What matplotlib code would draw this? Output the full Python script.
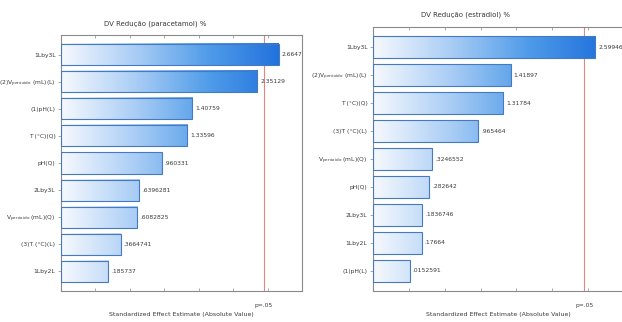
import numpy as np
import matplotlib.pyplot as plt
from matplotlib.colors import LinearSegmentedColormap, Normalize
from matplotlib.ticker import MultipleLocator

# Pareto charts of standardized effects
titles = ["DV Redução (paracetamol) %", "DV Redução (estradiol) %"]

labels_para = ["1Lby3L", r"(2)V$_{\rm peróxido}$ (mL)(L)", "(1)pH(L)", "T (°C)(Q)",
               "pH(Q)", "2Lby3L", r"V$_{\rm peróxido}$ (mL)(Q)", "(3)T (°C)(L)", "1Lby2L"]
values_para = [2.6647, 2.35129, 1.40759, 1.33596, 0.960331, 0.6396281, 0.6082825,
               0.3664741, 0.185737]
texts_para = ["2.6647", "2.35129", "1.40759", "1.33596", ".960331", ".6396281",
              ".6082825", ".3664741", ".185737"]

labels_estr = ["1Lby3L", r"(2)V$_{\rm peróxido}$ (mL)(L)", "T (°C)(Q)", "(3)T (°C)(L)",
               r"V$_{\rm peróxido}$ (mL)(Q)", "pH(Q)", "2Lby3L", "1Lby2L", "(1)pH(L)"]
values_estr = [2.59946, 1.41897, 1.31784, 0.965464, 0.3246552, 0.282642, 0.1836746,
               0.17664, 0.0152591]
texts_estr = ["2.59946", "1.41897", "1.31784", ".965464", ".3246552", ".282642",
              ".1836746", ".17664", ".0152591"]

p_crit = 2.4469
XMIN, XMAX = -0.5, 3.0

cmap = LinearSegmentedColormap.from_list("bl", ["#f6f9fe", "#a9cdf5", "#4f9be9", "#1e6fdc"])
norm = Normalize(vmin=XMIN, vmax=2.75)
txt_col = "#3a3a3a"


def pareto(ax, labels, values, texts, title, title_x, title_y, fig):
    y = np.arange(len(values))
    h = 0.78
    for yi, v in zip(y, values):
        grad = np.linspace(XMIN, v, 256).reshape(1, -1)
        ax.imshow(grad, cmap=cmap, norm=norm, aspect="auto",
                  extent=[XMIN, v, yi + h / 2, yi - h / 2], zorder=2)
    ax.barh(y, np.array(values) - XMIN, left=XMIN, height=h, fill=False,
            edgecolor="#4579c0", linewidth=0.8, zorder=3)
    for yi, v, t in zip(y, values, texts):
        ax.text(v + 0.04, yi, t, fontsize=4.3, color=txt_col, va="center", ha="left")
    ax.axvline(p_crit, color="#e38585", lw=0.8, zorder=1)
    ax.set_xlim(XMIN, XMAX)
    ax.set_ylim(len(values) - 0.28, -0.72)
    ax.set_yticks(y)
    ax.set_yticklabels(labels, fontsize=4.3, color=txt_col)
    ax.set_xticks([])
    ax.xaxis.set_minor_locator(MultipleLocator(0.5))
    ax.tick_params(axis="x", which="minor", length=2, width=0.5, color="#888888",
                   top=True, bottom=True, direction="in")
    ax.tick_params(axis="y", length=2, width=0.5, color="#888888", pad=2)
    for s in ax.spines.values():
        s.set_color("#8a8a8a")
        s.set_linewidth(0.8)
    ax.text(p_crit, -0.045, "p=.05", transform=ax.get_xaxis_transform(),
            fontsize=4.3, color=txt_col, ha="center", va="top")
    ax.set_xlabel("Standardized Effect Estimate (Absolute Value)", fontsize=4.5,
                  color=txt_col, labelpad=12)
    fig.text(title_x, title_y, title, fontsize=5, color=txt_col, ha="center", va="center")


fig = plt.figure(figsize=(6.22, 3.22), dpi=100)
ax1 = fig.add_axes([61 / 622, 31 / 322, 241 / 622, 256 / 322])
ax2 = fig.add_axes([373 / 622, 31 / 322, 251 / 622, 264 / 322])

pareto(ax1, labels_para, values_para, texts_para, titles[0], 155 / 622, 1 - 24 / 322, fig)
pareto(ax2, labels_estr, values_estr, texts_estr, titles[1], 466 / 622, 1 - 15 / 322, fig)

fig.savefig("out.png", dpi=100)
